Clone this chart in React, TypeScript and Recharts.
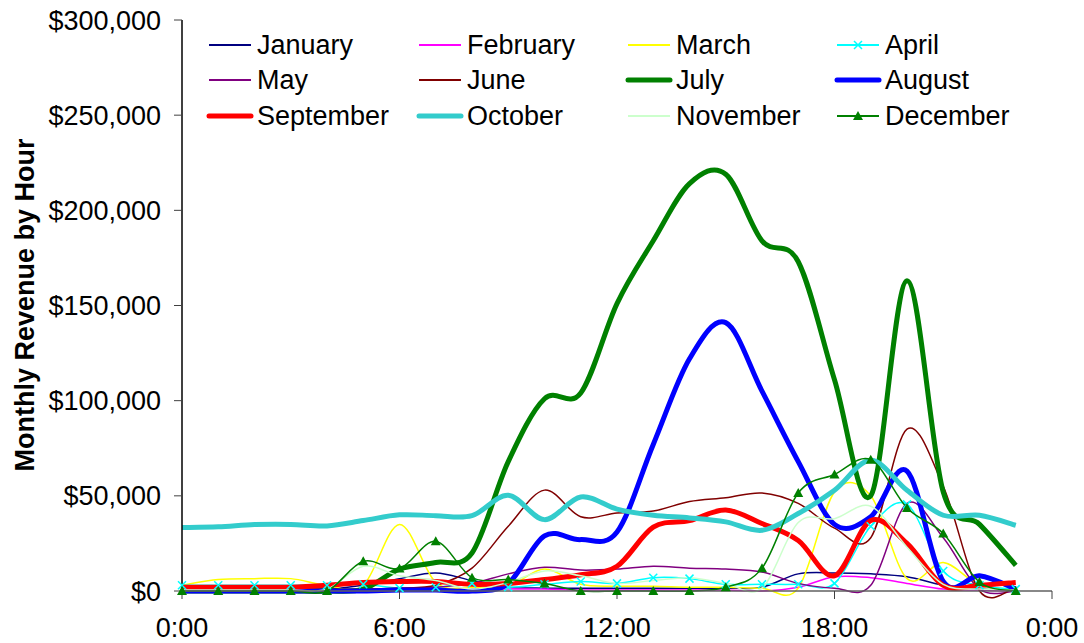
import React from "react";
import { LineChart, Line, XAxis, YAxis } from "recharts";

// Hour of day (0 = midnight)
const hours = [0, 1, 2, 3, 4, 5, 6, 7, 8, 9, 10, 11, 12, 13, 14, 15, 16, 17, 18, 19, 20, 21, 22, 23];

// Monthly revenue by hour, one list per month
const january = [1000, 1000, 1000, 1000, 1000, 3000, 6500, 9500, 5500, 2000, 1500, 1500, 1500, 1500, 1500, 1500, 2000, 9000, 9500, 9000, 7500, 3000, 1000, 0];
const february = [500, 500, 500, 500, 500, 500, 1000, 1000, 1000, 1000, 1000, 500, 500, 500, 500, 500, 0, 2000, 7500, 7000, 4000, 1000, 500, 0];
const march = [3000, 6000, 6500, 6500, 3000, 3000, 35000, 4500, 2000, 2500, 11500, 3500, 2500, 2500, 2000, 2000, 1500, 1500, 52000, 50000, 6500, 15000, 3000, 1000];
const april = [3000, 3000, 3000, 3000, 3000, 3500, 1500, 2000, 4000, 2000, 3500, 5000, 4000, 7000, 6500, 3500, 3500, 3500, 4000, 34000, 45500, 10500, 3000, 1000];
const may = [500, 500, 500, 500, 500, 1000, 1500, 2000, 4000, 9000, 12500, 11000, 11500, 13000, 12000, 11500, 10000, 4000, 1500, 3000, 46000, 28000, 1000, 0];
const june = [1000, 1000, 1000, 1000, 1000, 1000, 1500, 3000, 12000, 34000, 53000, 39000, 41000, 42000, 47000, 49000, 51500, 46000, 33000, 28000, 85000, 55000, 0, 2000];
const july = [0, 0, 0, 0, 0, 1000, 11500, 15000, 20000, 68000, 101000, 104000, 151000, 184000, 214000, 219000, 184000, 173000, 111000, 50000, 163000, 52000, 35000, 13500];
const august = [0, 0, 0, 0, 0, 0, 500, 500, 0, 4000, 29000, 27000, 31000, 77000, 122000, 141000, 105000, 68000, 35000, 39000, 63000, 5000, 8000, 1000];
const september = [2000, 2000, 2000, 2000, 3000, 4500, 5000, 5000, 3500, 4000, 6000, 8500, 13000, 33500, 37000, 42500, 35500, 26500, 8000, 37000, 25000, 3000, 3000, 4500];
const october = [33300, 33700, 34900, 35000, 34200, 37000, 40000, 39600, 39600, 50300, 37500, 49400, 43000, 39800, 38400, 36300, 31900, 40700, 52900, 68700, 52900, 39800, 39800, 34500];
const november = [500, 500, 500, 500, 1000, 13000, 8000, 5500, 1000, 4500, 10500, 8000, 4000, 5500, 7000, 4000, 1500, 36000, 38000, 44500, 23000, 3500, 1000, 500];
const december = [0, 0, 0, 0, 0, 15600, 11800, 26100, 7000, 6000, 3900, 0, 0, 0, 0, 2000, 12000, 51500, 61200, 69000, 43600, 30200, 4700, 0];

// Axis ticks
const xTicks = [0, 6, 12, 18, 24];
const yTicks = [0, 50000, 100000, 150000, 200000, 250000, 300000];

const FONT = "'Liberation Sans', Arial, sans-serif";
const TEXT_SIZE = 27;

type Marker = "none" | "x" | "triangle";
interface SeriesDef {
  name: string;
  values: number[];
  color: string;
  width: number;
  marker: Marker;
}

const series: SeriesDef[] = [
  { name: "January", values: january, color: "#000080", width: 1.5, marker: "none" },
  { name: "February", values: february, color: "#FF00FF", width: 1.5, marker: "none" },
  { name: "March", values: march, color: "#FFFF00", width: 1.5, marker: "none" },
  { name: "April", values: april, color: "#00FFFF", width: 1.5, marker: "x" },
  { name: "May", values: may, color: "#800080", width: 1.5, marker: "none" },
  { name: "June", values: june, color: "#800000", width: 1.5, marker: "none" },
  { name: "July", values: july, color: "#008000", width: 5, marker: "none" },
  { name: "August", values: august, color: "#0000FF", width: 5, marker: "none" },
  { name: "September", values: september, color: "#FF0000", width: 5, marker: "none" },
  { name: "October", values: october, color: "#33CCCC", width: 5, marker: "none" },
  { name: "November", values: november, color: "#CCFFCC", width: 1.5, marker: "none" },
  { name: "December", values: december, color: "#008000", width: 1.5, marker: "triangle" },
];

const rows = hours.map((h, i) => {
  const row: Record<string, number> = { hour: h };
  series.forEach((s) => {
    row[s.name] = s.values[i];
  });
  return row;
});

// Spreadsheet-style smoothing: cubic Bezier segments whose handles are
// one sixth of the chord between each point's neighbours (Catmull-Rom).
const smoothCurve = (ctx: any) => {
  let pts: [number, number][] = [];
  return {
    areaStart() {},
    areaEnd() {},
    lineStart() {
      pts = [];
    },
    point(x: number, y: number) {
      pts.push([+x, +y]);
    },
    lineEnd() {
      const n = pts.length;
      if (!n) return;
      ctx.moveTo(pts[0][0], pts[0][1]);
      for (let i = 0; i < n - 1; i++) {
        const p0 = pts[i - 1] || pts[i];
        const p1 = pts[i];
        const p2 = pts[i + 1];
        const p3 = pts[i + 2] || p2;
        ctx.bezierCurveTo(
          p1[0] + (p2[0] - p0[0]) / 6,
          p1[1] + (p2[1] - p0[1]) / 6,
          p2[0] - (p3[0] - p1[0]) / 6,
          p2[1] - (p3[1] - p1[1]) / 6,
          p2[0],
          p2[1]
        );
      }
    },
  };
};

const makeDot = (s: SeriesDef) => {
  if (s.marker === "triangle") {
    return (p: any) => (
      <path
        key={`${s.name}-${p.index}`}
        d={`M${p.cx},${p.cy - 5} L${p.cx + 5},${p.cy + 4} L${p.cx - 5},${p.cy + 4} Z`}
        fill={s.color}
      />
    );
  }
  if (s.marker === "x") {
    return (p: any) => (
      <path
        key={`${s.name}-${p.index}`}
        d={`M${p.cx - 4},${p.cy - 4} L${p.cx + 4},${p.cy + 4} M${p.cx - 4},${p.cy + 4} L${p.cx + 4},${p.cy - 4}`}
        stroke={s.color}
        strokeWidth={1.5}
        fill="none"
      />
    );
  }
  return false;
};

const money = (v: number) => "$" + v.toLocaleString("en-US");
const hourLabel = (v: number) => `${v % 24}:00`;

// Legend grid: 4 columns x 3 rows
const legendCols = [209, 419, 628, 837];
const legendRows = [45, 80, 116];

const AxisTitle = () => (
  <text
    x={25}
    y={305}
    transform="rotate(-90 25 305)"
    textAnchor="middle"
    dominantBaseline="central"
    fontFamily={FONT}
    fontWeight="bold"
    fontSize={27}
    fill="#000"
  >
    Monthly Revenue by Hour
  </text>
);

export default function App() {
  return (
    <div style={{ position: "absolute", left: 0, top: 0, width: 1084, height: 643, background: "#fff" }}>
      <LineChart
        width={1084}
        height={643}
        data={rows}
        margin={{ top: 20, right: 32, bottom: 12, left: 0 }}
      >
        <XAxis
          dataKey="hour"
          type="number"
          domain={[0, 24]}
          ticks={xTicks}
          tickFormatter={hourLabel}
          height={40}
          axisLine={{ stroke: "#606060", strokeWidth: 1.5 }}
          tickLine={{ stroke: "#404040" }}
          tickSize={8}
          tickMargin={19}
          tick={{ fill: "#000", fontSize: TEXT_SIZE, fontFamily: FONT }}
          interval={0}
        />
        <XAxis
          xAxisId="top"
          orientation="top"
          dataKey="hour"
          type="number"
          domain={[0, 24]}
          height={0}
          tick={false}
          tickLine={false}
          axisLine={{ stroke: "#909090", strokeWidth: 1.5 }}
        />
        <YAxis
          domain={[0, 300000]}
          ticks={yTicks}
          tickFormatter={money}
          width={182}
          axisLine={{ stroke: "#000", strokeWidth: 1.5 }}
          tickLine={{ stroke: "#404040" }}
          tickSize={8}
          tickMargin={13}
          tick={{ fill: "#000", fontSize: TEXT_SIZE, fontFamily: FONT }}
          interval={0}
          label={<AxisTitle />}
        />
        <YAxis
          yAxisId="right"
          orientation="right"
          domain={[0, 300000]}
          width={0}
          tick={false}
          tickLine={false}
          axisLine={{ stroke: "#909090", strokeWidth: 1.5 }}
        />
        {series.map((s) => (
          <Line
            key={s.name}
            dataKey={s.name}
            type={smoothCurve as any}
            stroke={s.color}
            strokeWidth={s.width}
            dot={makeDot(s) as any}
            activeDot={false}
            isAnimationActive={false}
          />
        ))}
      </LineChart>
      <svg
        width={1084}
        height={643}
        style={{ position: "absolute", left: 0, top: 0, pointerEvents: "none" }}
      >
        {series.map((s, i) => {
          const x = legendCols[i % 4];
          const y = legendRows[Math.floor(i / 4)];
          const thick = s.width > 2;
          return (
            <g key={s.name}>
              <line
                x1={x}
                y1={y}
                x2={x + 42}
                y2={y}
                stroke={s.color}
                strokeWidth={thick ? 5 : 2}
                strokeLinecap={thick ? "round" : "butt"}
              />
              {s.marker === "triangle" && (
                <path d={`M${x + 21},${y - 5} L${x + 26},${y + 4} L${x + 16},${y + 4} Z`} fill={s.color} />
              )}
              {s.marker === "x" && (
                <path
                  d={`M${x + 17},${y - 4} L${x + 25},${y + 4} M${x + 17},${y + 4} L${x + 25},${y - 4}`}
                  stroke={s.color}
                  strokeWidth={1.5}
                />
              )}
              <text
                x={x + 48}
                y={y}
                dominantBaseline="central"
                fontFamily={FONT}
                fontSize={TEXT_SIZE}
                fill="#000"
              >
                {s.name}
              </text>
            </g>
          );
        })}
      </svg>
    </div>
  );
}
